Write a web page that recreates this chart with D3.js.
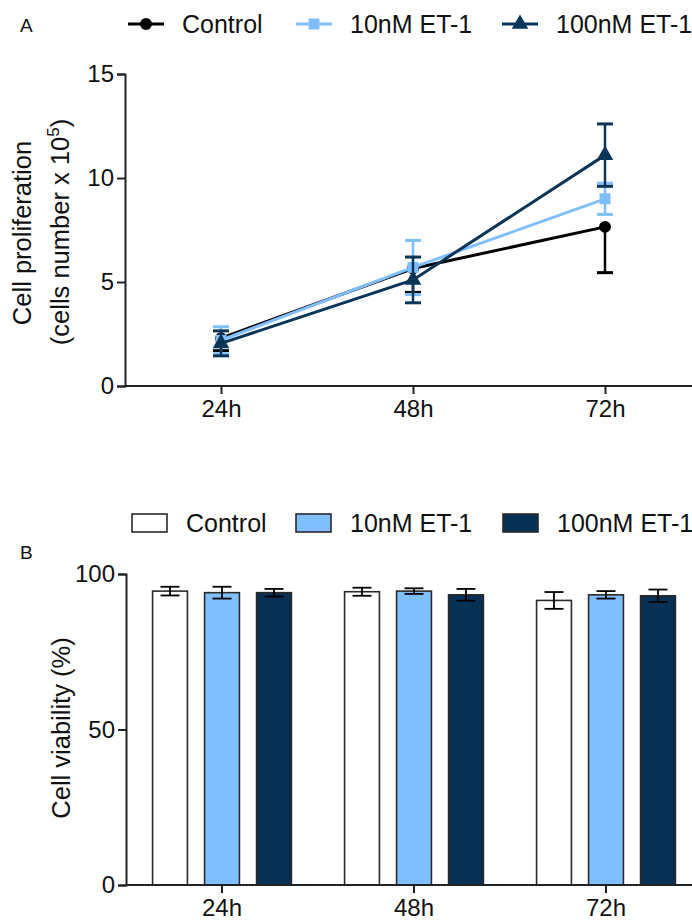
<!DOCTYPE html>
<html>
<head>
<meta charset="utf-8">
<script src="https://cdn.jsdelivr.net/npm/d3@7"></script>
<style>
  html, body { margin: 0; padding: 0; background: #fff; }
  svg { display: block; font-family: "Liberation Sans", Arial, sans-serif; }
</style>
</head>
<body>
<script>
// ---------- data ----------
const times = ["24h", "48h", "72h"];
const seriesNames = ["Control", "10nM ET-1", "100nM ET-1"];
const seriesColors = ["#000000", "#80BFFF", "#0B3558"];

// Panel A: cell proliferation (cells number x 10^5), mean and error
const prolifControl = [2.3, 5.65, 7.65];
const prolifControlErr = [0.6, 1.15, 2.2];
const prolif10nM = [2.2, 5.7, 9.0];
const prolif10nMErr = [0.65, 1.3, 0.75];
const prolif100nM = [2.05, 5.1, 11.1];
const prolif100nMErr = [0.6, 1.1, 1.5];
const prolifTicks = [0, 5, 10, 15];

// Panel B: cell viability (%), mean and error
const viabControl = [94.5, 94.3, 91.5];
const viabControlErr = [1.4, 1.3, 2.7];
const viab10nM = [94.0, 94.5, 93.3];
const viab10nMErr = [1.9, 0.9, 1.2];
const viab100nM = [94.0, 93.3, 93.0];
const viab100nMErr = [1.2, 1.9, 2.0];
const viabTicks = [0, 50, 100];

// ---------- svg ----------
const W = 692, H = 921;
const svg = d3.select("body").append("svg").attr("width", W).attr("height", H);
const axisColor = "#222";
const tickFont = "24px";
const titleFont = "25.5px";
const legendFont = "25px";

// ================= Panel A =================
const xA = d3.scalePoint().domain(times).range([125, 701]).padding(0.5);
const yA = d3.scaleLinear().domain([0, 15]).range([386, 74]);

const gA = svg.append("g");
const yAxisA = gA.append("g").attr("transform", "translate(125,0)")
  .call(d3.axisLeft(yA).tickValues(prolifTicks).tickSize(8).tickPadding(3));
const xAxisA = gA.append("g").attr("transform", "translate(0,386)")
  .call(d3.axisBottom(xA).tickSize(8).tickPadding(6));
xAxisA.select(".domain").attr("d", "M125,0H692");
[yAxisA, xAxisA].forEach(a => {
  a.selectAll(".domain").attr("stroke", axisColor).attr("stroke-width", 2);
  a.selectAll(".tick line").attr("stroke", axisColor).attr("stroke-width", 2);
  a.selectAll("text").attr("fill", "#111").style("font-size", tickFont);
});

// y title
gA.append("text").attr("transform", "translate(31,233) rotate(-90)")
  .attr("text-anchor", "middle").attr("fill", "#111").style("font-size", titleFont)
  .text("Cell proliferation");
const title2 = gA.append("text").attr("transform", "translate(69,232) rotate(-90)")
  .attr("text-anchor", "middle").attr("fill", "#111").style("font-size", titleFont);
title2.append("tspan").text("(cells number x 10");
title2.append("tspan").attr("dy", "-10").style("font-size", "17px").text("5");
title2.append("tspan").attr("dy", "10").text(")");

const prolifData = [
  {name: seriesNames[0], vals: prolifControl, err: prolifControlErr, color: seriesColors[0], sym: d3.symbolCircle, size: 113, dir: "down"},
  {name: seriesNames[1], vals: prolif10nM, err: prolif10nMErr, color: seriesColors[1], sym: d3.symbolSquare, size: 120, dir: "both"},
  {name: seriesNames[2], vals: prolif100nM, err: prolif100nMErr, color: seriesColors[2], sym: d3.symbolTriangle, size: 120, dir: "both"}
];

const line = d3.line().x((d, i) => xA(times[i])).y(d => yA(d));
const capW = 8;
prolifData.forEach(s => {
  const g = gA.append("g");
  s.vals.forEach((v, i) => {
    const x = xA(times[i]);
    const hi = s.dir === "down" ? v : v + s.err[i];
    const lo = v - s.err[i];
    g.append("line").attr("x1", x).attr("x2", x).attr("y1", yA(hi)).attr("y2", yA(lo))
      .attr("stroke", s.color).attr("stroke-width", 2.5);
    if (s.dir !== "down")
      g.append("line").attr("x1", x - capW).attr("x2", x + capW).attr("y1", yA(hi)).attr("y2", yA(hi))
        .attr("stroke", s.color).attr("stroke-width", 3);
    g.append("line").attr("x1", x - capW).attr("x2", x + capW).attr("y1", yA(lo)).attr("y2", yA(lo))
      .attr("stroke", s.color).attr("stroke-width", 3);
  });
  g.append("path").datum(s.vals).attr("d", line).attr("fill", "none")
    .attr("stroke", s.color).attr("stroke-width", 3);
  g.selectAll(".pt").data(s.vals).enter().append("path")
    .attr("transform", (d, i) => `translate(${xA(times[i])},${yA(d)})`)
    .attr("d", d3.symbol().type(s.sym).size(s.size)).attr("fill", s.color);
});

// legend A
const legAx = [128, 296, 502];
prolifData.forEach((s, i) => {
  const g = gA.append("g").attr("transform", `translate(${legAx[i]},24)`);
  g.append("line").attr("x1", 0).attr("x2", 36).attr("stroke", s.color).attr("stroke-width", 3);
  g.append("path").attr("transform", "translate(18,0)")
    .attr("d", d3.symbol().type(s.sym).size(s.size)).attr("fill", s.color);
  g.append("text").attr("x", 54).attr("y", 9).attr("fill", "#111").style("font-size", legendFont).text(s.name);
});
svg.append("text").attr("x", 20).attr("y", 32).attr("fill", "#111").style("font-size", "19px").text("A");

// ================= Panel B =================
const xB = d3.scaleBand().domain(times).range([126, 702]);
const xSub = d3.scaleBand().domain(seriesNames).range([-78, 78]).paddingInner(0.33).paddingOuter(0.165);
const yB = d3.scaleLinear().domain([0, 100]).range([885, 574]);

const gB = svg.append("g");
const viabData = [
  {name: seriesNames[0], vals: viabControl, err: viabControlErr, fill: "#ffffff"},
  {name: seriesNames[1], vals: viab10nM, err: viab10nMErr, fill: "#80BFFF"},
  {name: seriesNames[2], vals: viab100nM, err: viab100nMErr, fill: "#073154"}
];

viabData.forEach(s => {
  s.vals.forEach((v, i) => {
    const cx = xB(times[i]) + xB.bandwidth() / 2;
    const x0 = cx + xSub(s.name);
    const bw = xSub.bandwidth();
    gB.append("rect").attr("x", x0).attr("y", yB(v)).attr("width", bw).attr("height", yB(0) - yB(v))
      .attr("fill", s.fill).attr("stroke", "#2a2a2a").attr("stroke-width", 1.6);
    const xm = x0 + bw / 2;
    const hi = yB(v + s.err[i]), lo = yB(v - s.err[i]);
    gB.append("line").attr("x1", xm).attr("x2", xm).attr("y1", hi).attr("y2", lo).attr("stroke", "#000").attr("stroke-width", 1.8);
    [hi, lo].forEach(yy => gB.append("line").attr("x1", xm - 9.5).attr("x2", xm + 9.5).attr("y1", yy).attr("y2", yy)
      .attr("stroke", "#000").attr("stroke-width", 1.8));
  });
});

const yAxisB = gB.append("g").attr("transform", "translate(126,0)")
  .call(d3.axisLeft(yB).tickValues(viabTicks).tickSize(8).tickPadding(3));
const xAxisB = gB.append("g").attr("transform", "translate(0,885)")
  .call(d3.axisBottom(xB).tickSize(8).tickPadding(6));
xAxisB.select(".domain").attr("d", "M126,0H692");
[yAxisB, xAxisB].forEach(a => {
  a.selectAll(".domain").attr("stroke", axisColor).attr("stroke-width", 2);
  a.selectAll(".tick line").attr("stroke", axisColor).attr("stroke-width", 2);
  a.selectAll("text").attr("fill", "#111").style("font-size", tickFont);
});

gB.append("text").attr("transform", "translate(70,728) rotate(-90)")
  .attr("text-anchor", "middle").attr("fill", "#111").style("font-size", titleFont)
  .text("Cell viability (%)");

// legend B
const legBx = [132, 296, 503];
viabData.forEach((s, i) => {
  const g = gB.append("g").attr("transform", `translate(${legBx[i]},523)`);
  g.append("rect").attr("x", 0).attr("y", -9).attr("width", 35).attr("height", 18)
    .attr("fill", s.fill).attr("stroke", "#2a2a2a").attr("stroke-width", 1.6);
  g.append("text").attr("x", 54).attr("y", 9).attr("fill", "#111").style("font-size", legendFont).text(s.name);
});
svg.append("text").attr("x", 20).attr("y", 559).attr("fill", "#111").style("font-size", "19px").text("B");
</script>
</body>
</html>
